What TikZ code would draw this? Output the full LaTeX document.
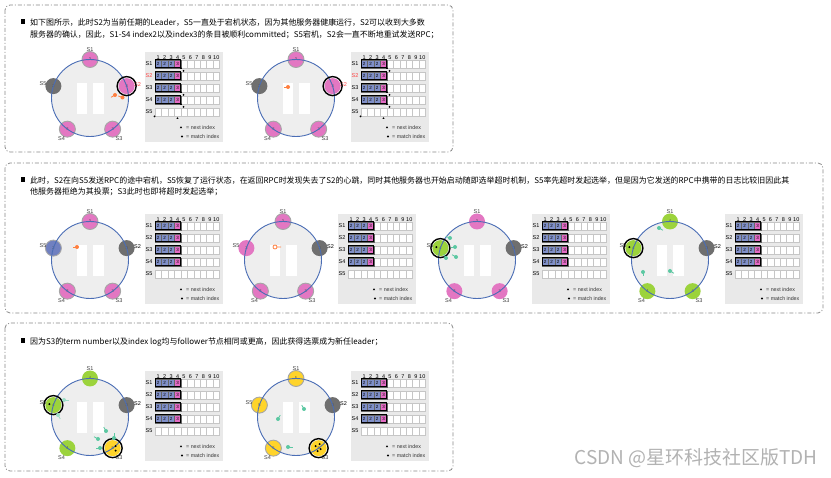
\documentclass[tikz,border=0pt]{standalone}
\usepackage{fontspec}
\setmainfont{Liberation Sans}
\newfontfamily\cjk{Noto Sans CJK SC}
\usetikzlibrary{positioning}
\definecolor{RingBlue}{HTML}{4A6DB5}
\definecolor{RingFill}{HTML}{EEEEEE}
\definecolor{NodePink}{HTML}{E377C2}
\definecolor{NodeDown}{HTML}{6F6F6F}
\definecolor{NodeBlue}{HTML}{7080C0}
\definecolor{NodeGreen}{HTML}{9CD33C}
\definecolor{NodeGold}{HTML}{FFD42A}
\definecolor{LogBlue}{HTML}{7F8FC8}
\definecolor{LogPink}{HTML}{E36BC4}
\definecolor{TableBg}{HTML}{E9E9E9}
\definecolor{MsgOrange}{HTML}{FF7F3F}
\definecolor{MsgTeal}{HTML}{5CC8A2}
\definecolor{FrameGray}{HTML}{8A8A8A}
\definecolor{LabelRed}{HTML}{FF4040}

\tikzset{
  frame/.style={draw=FrameGray, line width=0.8pt, rounded corners=5pt,
    dash pattern=on 4pt off 2pt on 1pt off 2pt},
  para/.style={font=\cjk\fontsize{7.95}{10}\selectfont, anchor=base west, inner sep=0pt},
  srv/.style={circle, minimum size=16pt, inner sep=0pt,
    font=\fontsize{4}{4}\selectfont, text=black!70},
  timer/.style={draw=gray!70, line width=0.9pt},
  plain/.style={},
  lead/.style={draw=black, line width=1.4pt},
  srvlab/.style={font=\fontsize{5.5}{6}\selectfont, text=black!75, inner sep=0pt},
  hdr/.style={font=\fontsize{5.5}{6}\selectfont, inner sep=0pt},
  cellbox/.style={draw=gray!45, fill=white, line width=0.4pt},
  logcell/.style={draw=black!60, line width=0.3pt, minimum width=6.45pt,
    minimum height=8pt, inner sep=0pt, font=\fontsize{4.5}{5}\selectfont},
  logrun/.style={draw=black, line width=1pt},
  legend/.style={font=\fontsize{5.3}{6}\selectfont, anchor=west, inner sep=0pt, text=black!80}
}

% circle of five servers: #1 colour of the S2 label, #2 n/colour/term/style
\newcommand{\cluster}[2]{%
  \fill[RingFill] (90,98) circle[radius=38.5];
  \fill[white] (77,83) rectangle (87,114);
  \fill[white] (93,83) rectangle (104,114);
  \foreach \n/\a in {1/-90,2/-18,3/54,4/126,5/198}
    \coordinate (p\n) at ([shift={(\a:38.5)}]90,98);
  \foreach \n/\col/\t/\st in {#2}
    \node[srv, fill=\col, \st] (s\n) at (p\n) {\t};
  \draw[RingBlue, line width=0.9pt] (90,98) circle[radius=38.5];
  \node[srvlab] (l1) at (90,50) {S1};
  \node[srvlab, text=#1] (l2) at (137.5,84.5) {S2};
  \node[srvlab] (l3) at (119,138.5) {S3};
  \node[srvlab] (l4) at (61.5,138.5) {S4};
  \node[srvlab] (l5) at (43,83.5) {S5};
}

% log table: #1 colour of the S2 row label
\newcommand{\logtable}[1]{%
  \fill[TableBg] (145,52) rectangle (223,142);
  \foreach \i in {1,...,10}
    \node[hdr] (h\i) at ({155+6.45*(\i-0.5)},57.5) {\i};
  \foreach \k/\c in {1/black,2/#1,3/black,4/black,5/black}{
    \pgfmathsetmacro{\yy}{64+12*(\k-1)}
    \node[hdr, text=\c] (r\k) at (149,\yy) {S\k};
    \foreach \i in {1,...,10}
      \draw[cellbox] ({155+6.45*(\i-1)},{\yy-4}) rectangle +(6.45,8);
  }
  \foreach \k in {1,...,4}{
    \pgfmathsetmacro{\yy}{64+12*(\k-1)}
    \foreach \i in {1,2,3}
      \node[logcell, fill=LogBlue] (e\k\i) at ({155+6.45*(\i-0.5)},\yy) {2};
    \node[logcell, fill=LogPink] (e\k4) at ({155+6.45*3.5},\yy) {3};
    \draw[logrun] (155,{\yy-4}) rectangle (180.8,{\yy+4});
  }
  \fill (181,128.2) -- +(-1.2,0) -- +(0,-2) -- +(1.2,0) -- cycle;
  \node[legend] (nx) at (186,127.3) {= next index};
  \fill (182,136.5) circle[radius=1.1];
  \node[legend] (mx) at (186,136.5) {= match index};
}

\newcommand{\nextmark}[2]{\fill (#1,#2) -- +(-1.1,0) -- +(0,-1.9) -- +(1.1,0) -- cycle;}
\newcommand{\matchmark}[2]{\fill (#1,#2) circle[radius=1];}
% message blob: colour, x, y, direction of the tail
\newcommand{\msg}[4]{%
  \draw[#1, line width=0.8pt] (#2,#3) -- +(#4:4.5);
  \fill[#1] (#2,#3) circle[radius=2];}

\begin{document}
\begin{tikzpicture}[x=1pt, y=-1pt]
  \useasboundingbox (0,0) rectangle (831,478);
  \fill[white] (0,0) rectangle (831,478);

  % frames and text
  \draw[frame] (5,5) rectangle (453,152);
  \draw[frame] (5,163) rectangle (823,313);
  \draw[frame] (5,323) rectangle (453,471);

  \fill (20.5,19.5) rectangle (25,24);
  \node[para] (t1a) at (30,25.3) {如下图所示，此时S2为当前任期的Leader，S5一直处于宕机状态，因为其他服务器健康运行，S2可以收到大多数};
  \node[para] (t1b) at (30,37.3) {服务器的确认，因此，S1-S4 index2以及index3的条目被顺利committed；S5宕机，S2会一直不断地重试发送RPC；};

  \fill (20.5,177.5) rectangle (25,182);
  \node[para] (t2a) at (30,183.3) {此时，S2在向S5发送RPC的途中宕机，S5恢复了运行状态，在返回RPC时发现失去了S2的心跳，同时其他服务器也开始启动随即选举超时机制，S5率先超时发起选举，但是因为它发送的RPC中携带的日志比较旧因此其};
  \node[para] (t2b) at (30,194.5) {他服务器拒绝为其投票；S3此时也即将超时发起选举；};

  \fill (20.5,338.5) rectangle (25,343);
  \node[para] (t3a) at (30,344.3) {因为S3的term number以及index log均与follower节点相同或更高，因此获得选票成为新任leader；};

  % row 1, panel 1
  \begin{scope}[name prefix=a-]
    \cluster{LabelRed}{1/NodePink/3/timer, 2/NodePink/3/plain, 3/NodePink/3/timer,
      4/NodePink/3/timer, 5/NodeDown/2/plain}
    \draw[lead] (s2) circle[radius=9.5];
    \msg{MsgOrange}{115}{95}{150}
    \msg{MsgOrange}{122.5}{97.5}{200}
    \logtable{LabelRed}
    \foreach \y in {69,93,105} {\nextmark{181}{\y} \matchmark{183.5}{\y+2}}
    \matchmark{154.5}{116.5} \nextmark{177.5}{119}
  \end{scope}

  % row 1, panel 2
  \begin{scope}[shift={(206,0)}, name prefix=b-]
    \cluster{LabelRed}{1/NodePink/3/timer, 2/NodePink/3/plain, 3/NodePink/3/timer,
      4/NodePink/3/timer, 5/NodeDown/2/plain}
    \draw[lead] (s2) circle[radius=9.5];
    \msg{MsgOrange}{82}{87}{180}
    \logtable{LabelRed}
    \foreach \y in {69,93,105} {\nextmark{181}{\y} \matchmark{183.5}{\y+2}}
    \matchmark{154.5}{116.5} \nextmark{177.5}{119}
  \end{scope}

  % row 2, panel 1
  \begin{scope}[shift={(0,162)}, name prefix=c-]
    \cluster{black}{1/NodePink/3/timer, 2/NodeDown/3/plain, 3/NodePink/3/timer,
      4/NodePink/3/timer, 5/NodeBlue/2/timer}
    \msg{MsgOrange}{77}{85}{180}
    \logtable{black}
  \end{scope}

  % row 2, panel 2
  \begin{scope}[shift={(193,162)}, name prefix=d-]
    \cluster{black}{1/NodePink/3/timer, 2/NodeDown/3/plain, 3/NodePink/3/timer,
      4/NodePink/3/timer, 5/NodePink/3/plain}
    \draw[MsgOrange, line width=0.8pt] (82,85) circle[radius=2] (84,85) -- (88,85);
    \logtable{black}
  \end{scope}

  % row 2, panel 3
  \begin{scope}[shift={(387,162)}, name prefix=e-]
    \cluster{black}{1/NodePink/3/plain, 2/NodeDown/3/plain, 3/NodePink/3/plain,
      4/NodePink/3/plain, 5/NodeGreen/4/plain}
    \draw[lead] (s5) circle[radius=9.5];
    \fill (s5) ++(-4,-1) circle[radius=1.1];
    \msg{MsgTeal}{63}{76}{200}
    \msg{MsgTeal}{68}{85}{180}
    \msg{MsgTeal}{59}{96}{240}
    \msg{MsgTeal}{69}{95}{210}
    \logtable{black}
  \end{scope}

  % row 2, panel 4
  \begin{scope}[shift={(580,162)}, name prefix=f-]
    \cluster{black}{1/NodeGreen/4/plain, 2/NodeDown/3/plain, 3/NodeGreen/4/plain,
      4/NodeGreen/4/plain, 5/NodeGreen/4/plain}
    \draw[lead] (s5) circle[radius=9.5];
    \fill (s5) ++(-4,-1) circle[radius=1.1];
    \msg{MsgTeal}{79}{66}{30}
    \msg{MsgTeal}{63}{110}{90}
    \msg{MsgTeal}{90}{109}{30}
    \logtable{black}
  \end{scope}

  % row 3, panel 1
  \begin{scope}[shift={(0,319)}, name prefix=g-]
    \cluster{black}{1/NodeGreen/4/plain, 2/NodeDown/3/plain, 3/NodeGold/5/plain,
      4/NodeGreen/4/plain, 5/NodeGreen/4/plain}
    \draw[lead] (s5) circle[radius=9.5];
    \fill (s5) ++(-4,-1) circle[radius=1.1];
    \draw[lead] (s3) circle[radius=9.5];
    \fill (s3) ++(3,-2) circle[radius=1.1] ++(0,4.5) circle[radius=1.1];
    \msg{MsgTeal}{106}{112}{240}
    \msg{MsgTeal}{98}{120}{210}
    \msg{MsgTeal}{100}{129}{180}
    \msg{MsgTeal}{114}{119}{270}
    \msg{MsgTeal!60}{64}{81}{0}
    \msg{MsgTeal!60}{58}{96}{60}
    \logtable{black}
  \end{scope}

  % row 3, panel 2
  \begin{scope}[shift={(206,319)}, name prefix=h-]
    \cluster{black}{1/NodeGold/5/timer, 2/NodeDown/3/plain, 3/NodeGold/5/plain,
      4/NodeGold/5/timer, 5/NodeGold/5/timer}
    \draw[lead] (s3) circle[radius=9.5];
    \fill (s3) ++(-3,-2) circle[radius=1.1] ++(4,-2) circle[radius=1.1]
      ++(1,5) circle[radius=1.1] ++(-3,2) circle[radius=1.1];
    \msg{MsgTeal}{72}{100}{300}
    \msg{MsgTeal}{98}{90}{240}
    \msg{MsgTeal}{82}{128}{0}
    \logtable{black}
  \end{scope}

  \node[font=\cjk\fontsize{19}{20}\selectfont, text=gray!60, anchor=east, inner sep=0pt]
    (mark) at (818,458) {CSDN @星环科技社区版TDH};
\end{tikzpicture}
\end{document}
